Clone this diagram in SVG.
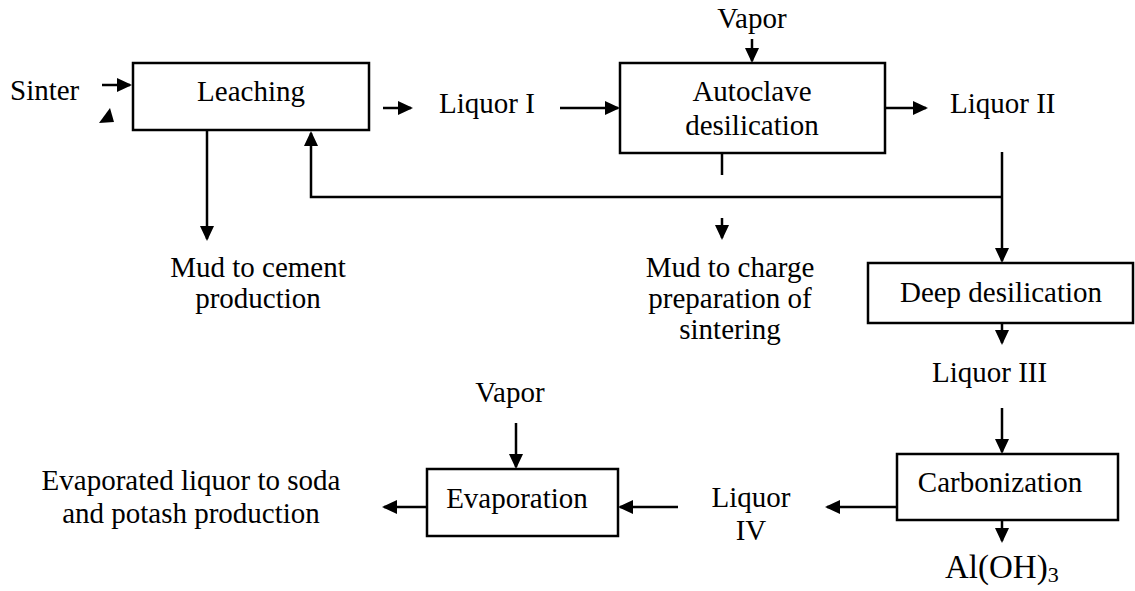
<svg xmlns="http://www.w3.org/2000/svg" width="1135" height="591" viewBox="0 0 1135 591">
<style>
.box{fill:#fff;stroke:#000;stroke-width:2.5}
.t{font-family:"Liberation Serif","Times New Roman",serif;font-size:29px;fill:#000}
.m{text-anchor:middle}
.ln{fill:none;stroke:#000;stroke-width:2.5}
.ar{fill:none;stroke:#000;stroke-width:2.5;marker-end:url(#ah)}
</style>
<defs>
<marker id="ah" markerUnits="userSpaceOnUse" markerWidth="16" markerHeight="16" refX="13" refY="7" orient="auto">
<path d="M0,0 L15,7 L0,14 z" fill="#000"/>
</marker>
</defs>
<rect width="1135" height="591" fill="#fff"/>
<g id="connectors">
<line class="ar" x1="102" y1="85" x2="130" y2="85"/>
<polygon points="110,108 99,123 114,122" fill="#000"/>
<line class="ar" x1="207" y1="130" x2="207" y2="239"/>
<polyline class="ar" points="1002,197 311,197 311,133"/>
<line class="ar" x1="383" y1="108" x2="411" y2="108"/>
<line class="ar" x1="560" y1="108" x2="618" y2="108"/>
<line class="ar" x1="752" y1="39" x2="752" y2="61"/>
<line class="ar" x1="885" y1="108" x2="926" y2="108"/>
<line class="ln" x1="722" y1="153" x2="722" y2="175"/>
<line class="ar" x1="722" y1="218" x2="722" y2="238"/>
<line class="ar" x1="1002" y1="152" x2="1002" y2="261"/>
<line class="ar" x1="1002" y1="323" x2="1002" y2="343"/>
<line class="ar" x1="1002" y1="408" x2="1002" y2="452"/>
<line class="ar" x1="897" y1="507" x2="827" y2="507"/>
<line class="ar" x1="678" y1="507" x2="620" y2="507"/>
<line class="ar" x1="427" y1="507" x2="384" y2="507"/>
<line class="ar" x1="516" y1="423" x2="516" y2="467"/>
<line class="ar" x1="1002" y1="520" x2="1002" y2="541"/>
</g>
<g id="sinter"><text class="t" x="10" y="100">Sinter</text></g>
<g id="leaching">
<rect class="box" x="133" y="63" width="236" height="67"/>
<text class="t m" x="251" y="101">Leaching</text>
</g>
<g id="liquor1"><text class="t" x="439" y="113">Liquor I</text></g>
<g id="vapor1"><text class="t m" x="752" y="28">Vapor</text></g>
<g id="autoclave">
<rect class="box" x="620" y="63" width="265" height="90"/>
<text class="t m" x="752" y="101">Autoclave</text>
<text class="t m" x="752" y="135">desilication</text>
</g>
<g id="liquor2"><text class="t" x="950" y="113">Liquor II</text></g>
<g id="mud-cement">
<text class="t m" x="258" y="277">Mud to cement</text>
<text class="t m" x="258" y="308">production</text>
</g>
<g id="mud-charge">
<text class="t m" x="730" y="277">Mud to charge</text>
<text class="t m" x="730" y="308">preparation of</text>
<text class="t m" x="730" y="339">sintering</text>
</g>
<g id="deep">
<rect class="box" x="868" y="263" width="265" height="60"/>
<text class="t m" x="1001" y="302">Deep desilication</text>
</g>
<g id="liquor3"><text class="t" x="932" y="382">Liquor III</text></g>
<g id="carbonization">
<rect class="box" x="897" y="454" width="221" height="66"/>
<text class="t m" x="1000" y="492">Carbonization</text>
</g>
<g id="aloh3"><text class="t" x="945" y="578" style="font-size:33px">Al(OH)<tspan dy="4" style="font-size:22px">3</tspan></text></g>
<g id="liquor4">
<text class="t m" x="751" y="507">Liquor</text>
<text class="t m" x="751" y="540">IV</text>
</g>
<g id="vapor2"><text class="t m" x="510" y="402">Vapor</text></g>
<g id="evaporation">
<rect class="box" x="427" y="469" width="191" height="67"/>
<text class="t m" x="517" y="508">Evaporation</text>
</g>
<g id="evaporated">
<text class="t m" x="191" y="490">Evaporated liquor to soda</text>
<text class="t m" x="191" y="523">and potash production</text>
</g>
</svg>
